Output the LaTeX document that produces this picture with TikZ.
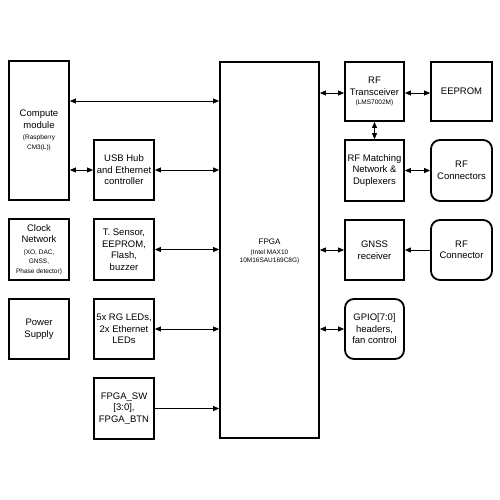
\documentclass[tikz,border=0pt]{standalone}
\usepackage{fontspec}
\setmainfont{Liberation Sans}
\usetikzlibrary{arrows.meta}
\tikzset{
  blk/.style={draw, line width=1.8pt, align=center, inner sep=1pt,
    font=\fontsize{9.5}{11.5}\selectfont},
  rblk/.style={blk, rounded corners=9pt},
  link/.style={line width=0.7pt, {Triangle[length=6pt,width=5pt]}-{Triangle[length=6pt,width=5pt]}},
  olink/.style={line width=0.7pt, -{Triangle[length=6pt,width=5pt]}},
}
\newcommand{\smalltxt}{\fontsize{6.5}{8.5}\selectfont}
\begin{document}
\begin{tikzpicture}[x=1pt,y=-1pt]
\useasboundingbox[fill=white] (0,0) rectangle (500,500);
% left column
\node[blk, minimum width=60pt, minimum height=139pt] (comp) at (39,130.5)
  {Compute\\module\\{\smalltxt(Raspberry}\\[-2pt]{\smalltxt CM3(L))}};
\node[blk, minimum width=60pt, minimum height=60pt] (usb) at (124,170)
  {USB Hub\\and Ethernet\\controller};
\node[blk, minimum width=60pt, minimum height=61pt] (clk) at (39,249.5)
  {Clock\\Network\\{\smalltxt (XO, DAC,}\\[-2pt]{\smalltxt GNSS,}\\[-2pt]{\smalltxt Phase detector)}};
\node[blk, minimum width=60pt, minimum height=61pt] (tsens) at (124,249.5)
  {T. Sensor,\\EEPROM,\\Flash,\\buzzer};
\node[blk, minimum width=60pt, minimum height=60pt] (pwr) at (39,329)
  {Power\\Supply};
\node[blk, minimum width=60pt, minimum height=60pt] (leds) at (124,329)
  {5x RG LEDs,\\2x Ethernet\\LEDs};
\node[blk, minimum width=60pt, minimum height=61pt] (sw) at (124,408.5)
  {FPGA\_SW\\{[}3:0{]},\\FPGA\_BTN};
% FPGA
\node[blk, minimum width=99pt, minimum height=376pt] (fpga) at (269.5,250) {};
\node[font=\fontsize{8}{9}\selectfont, align=center] (fpgat) at (269.5,251)
  {FPGA\\[1pt]{\smalltxt (Intel MAX10}\\[-1pt]{\smalltxt 10M16SAU169C8G)}};
% right columns
\node[blk, minimum width=59pt, minimum height=59pt] (rft) at (374.5,91.5)
  {RF\\Transceiver\\[-2pt]{\smalltxt (LMS7002M)}};
\node[blk, minimum width=61pt, minimum height=59pt] (eep) at (461.5,91.5) {EEPROM};
\node[blk, minimum width=59pt, minimum height=61pt] (rfm) at (374.5,170.5)
  {RF Matching\\Network \&\\Duplexers};
\node[rblk, minimum width=61pt, minimum height=61pt] (rfc) at (461.5,170.5)
  {RF\\Connectors};
\node[blk, minimum width=59pt, minimum height=60pt] (gnss) at (374.5,250)
  {GNSS\\receiver};
\node[rblk, minimum width=61pt, minimum height=60pt] (rfc2) at (461.5,250)
  {RF\\Connector};
\node[rblk, minimum width=59pt, minimum height=60pt] (gpio) at (374.5,329)
  {GPIO[7:0]\\headers,\\fan control};
% connectors
\draw[link] (comp.east |- 0,101) -- (fpga.west |- 0,101);
\draw[link] (comp.east |- usb.east) -- (usb.west);
\draw[link] (usb.east) -- (fpga.west |- usb.east);
\draw[link] (tsens.east) -- (fpga.west |- tsens.east);
\draw[link] (leds.east) -- (fpga.west |- leds.east);
\draw[olink] (sw.east) -- (fpga.west |- sw.east);
\draw[link] (fpga.east |- 0,93) -- (rft.west |- 0,93);
\draw[link] (rft.east |- 0,93) -- (eep.west |- 0,93);
\draw[link] (rft.south) -- (rfm.north);
\draw[link] (rfm.east) -- (rfc.west);
\draw[link] (fpga.east |- gnss.west) -- (gnss.west);
\draw[olink] (rfc2.west) -- (gnss.east);
\draw[link] (fpga.east |- gpio.west) -- (gpio.west);
\end{tikzpicture}
\end{document}
